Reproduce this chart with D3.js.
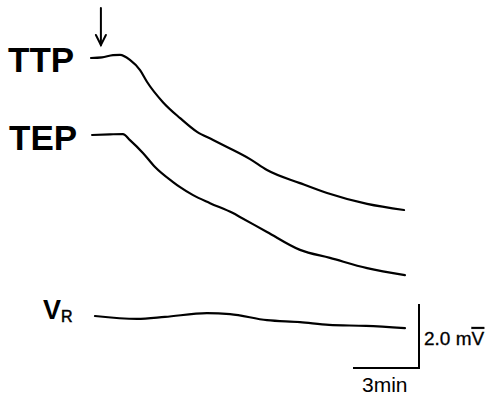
<!DOCTYPE html>
<html>
<head>
<meta charset="utf-8">
<script src="https://cdn.jsdelivr.net/npm/d3@7"></script>
<style>
  body { margin: 0; background: #fff; }
  svg text { font-family: "Liberation Sans", Arial, sans-serif; fill: #000; }
</style>
</head>
<body>
<div id="chart"></div>
<script>
// time in min, change in mV from each trace's start level
const ttpTime = [0, 0.5, 1.0, 1.32, 1.77, 2.23, 2.55, 3.27, 4.05, 4.82, 5.55, 6.18, 7.23, 8.0, 9.5, 10.73, 12.55, 14.23];
const ttpValues = [0, 0.02, 0.09, 0.10, -0.06, -0.38, -0.75, -1.38, -1.88, -2.31, -2.56, -2.78, -3.16, -3.5, -3.91, -4.22, -4.56, -4.75];

const tepTime = [0.05, 0.86, 1.45, 1.77, 2.36, 2.91, 3.73, 4.05, 4.64, 5.41, 6.45, 6.77, 8.0, 9.5, 10.86, 12.55, 14.27];
const tepValues = [0, 0.02, 0.03, -0.16, -0.56, -1.0, -1.47, -1.63, -1.88, -2.13, -2.44, -2.56, -3.03, -3.59, -3.84, -4.16, -4.38];

const vrTime = [0.18, 2.09, 3.36, 5.27, 6.32, 8.0, 9.5, 10.82, 12.5, 14.27];
const vrValues = [0, -0.09, -0.03, 0.09, 0.06, -0.13, -0.19, -0.28, -0.31, -0.38];

const stimulusTime = 0.45;
const scaleBarTime = 3;   // min
const scaleBarVolt = 2.0; // mV

const width = 487, height = 396;

const svg = d3.select("#chart").append("svg")
  .attr("width", width)
  .attr("height", height);

const x = d3.scaleLinear().domain([0, 14.3]).range([91, 91 + 14.3 * 22]);
const y = d3.scaleLinear().domain([0, -10]).range([0, 320]); // 32 px per mV

const traces = [
  { name: "TTP", time: ttpTime, values: ttpValues, base: 58 },
  { name: "TEP", time: tepTime, values: tepValues, base: 135 },
  { name: "VR", time: vrTime, values: vrValues, base: 316 }
];

const line = d3.line()
  .x(d => x(d[0]))
  .y(d => y(d[1]))
  .curve(d3.curveMonotoneX);

traces.forEach(tr => {
  svg.append("g")
    .attr("transform", `translate(0, ${tr.base})`)
    .append("path")
    .attr("d", line(d3.zip(tr.time, tr.values)))
    .attr("fill", "none")
    .attr("stroke", "#000")
    .attr("stroke-width", 2.2)
    .attr("stroke-linejoin", "round")
    .attr("stroke-linecap", "round");
});

// labels
svg.append("text").attr("x", 8).attr("y", 72)
  .attr("font-size", 35).attr("font-weight", "bold").text("TTP");
svg.append("text").attr("x", 9).attr("y", 150)
  .attr("font-size", 35).attr("font-weight", "bold").text("TEP");
const vr = svg.append("text").attr("x", 43).attr("y", 319)
  .attr("font-size", 27).attr("font-weight", "bold");
vr.append("tspan").text("V");
vr.append("tspan").attr("font-size", 16).attr("font-weight", "normal")
  .attr("stroke", "#000").attr("stroke-width", 0.5).attr("dy", 3).text("R");

// stimulus arrow
const ax = x(stimulusTime);
const arrow = svg.append("g").attr("stroke", "#000").attr("stroke-width", 2).attr("fill", "none")
  .attr("stroke-linecap", "round");
arrow.append("line").attr("x1", ax).attr("x2", ax).attr("y1", 8).attr("y2", 45);
arrow.append("path").attr("d", `M${ax - 5},35 L${ax},45 L${ax + 5},35`);

// scale bars
const barRight = 419, barBottom = 368;
const bars = svg.append("g").attr("stroke", "#000").attr("stroke-width", 2).attr("fill", "none");
bars.append("path")
  .attr("d", `M${barRight - (x(scaleBarTime) - x(0))},${barBottom} H${barRight} V${barBottom - (y(-scaleBarVolt) - y(0))}`);

const mv = svg.append("text").attr("x", 424).attr("y", 345).attr("font-size", 19)
  .attr("stroke", "#000").attr("stroke-width", 0.3);
mv.append("tspan").text(scaleBarVolt.toFixed(1) + " m");
mv.append("tspan").attr("text-decoration", "overline").text("V");

svg.append("text").attr("x", 362).attr("y", 392).attr("font-size", 21)
  .text(scaleBarTime + "min");
</script>
</body>
</html>
